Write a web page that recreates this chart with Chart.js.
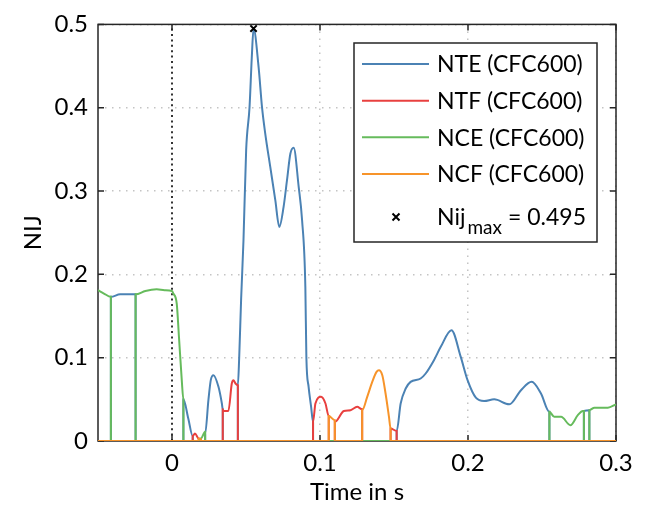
<!DOCTYPE html>
<html>
<head>
<meta charset="utf-8">
<script src="https://cdn.jsdelivr.net/npm/chart.js@4.4.1/dist/chart.umd.min.js"></script>
<style>
    html, body { margin: 0; padding: 0; background: #fff; }
    #wrap { width: 648px; height: 509px; }
</style>
</head>
<body>
<div id="wrap"><canvas id="nijChart" width="648" height="509"></canvas></div>
<script>
// time in s, Nij value (0 where the load case is not active)
const nteSamples = [
    [-0.05, 0], [-0.0413, 0], [-0.0413, 0.173], [-0.035, 0.176], [-0.0246, 0.176], [-0.0246, 0],
    [0.0077, 0], [0.0077, 0.05], [0.011, 0.027], [0.014, 0.006], [0.014, 0],
    [0.0224, 0], [0.0224, 0.009], [0.0246, 0.049], [0.0262, 0.073], [0.028, 0.079], [0.0314, 0.065],
    [0.0337, 0.045], [0.0343, 0.038], [0.0343, 0],
    [0.0445, 0], [0.0445, 0.067], [0.0454, 0.1], [0.0467, 0.17], [0.0483, 0.241], [0.0501, 0.349],
    [0.0524, 0.401], [0.0539, 0.46], [0.0551, 0.495], [0.0585, 0.449], [0.0608, 0.401], [0.063, 0.369],
    [0.0664, 0.329], [0.0698, 0.289], [0.0725, 0.257], [0.0754, 0.281], [0.0777, 0.313], [0.08, 0.345],
    [0.0822, 0.352], [0.0856, 0.305], [0.0879, 0.265], [0.0901, 0.185], [0.0908, 0.1], [0.0923, 0.065],
    [0.094, 0.041], [0.0953, 0.023], [0.0953, 0],
    [0.1518, 0], [0.1518, 0.012], [0.1545, 0.045], [0.1579, 0.063], [0.1612, 0.071], [0.168, 0.075],
    [0.1714, 0.081], [0.177, 0.097], [0.1816, 0.113], [0.1888, 0.133], [0.1951, 0.101], [0.1997, 0.073],
    [0.2053, 0.052], [0.2109, 0.048], [0.2177, 0.05], [0.2279, 0.044], [0.2358, 0.061], [0.243, 0.071],
    [0.2493, 0.057], [0.255, 0.035], [0.255, 0],
    [0.2783, 0], [0.2783, 0.036], [0.282, 0.037], [0.282, 0], [0.3, 0]
];
const ntfSamples = [
    [-0.05, 0], [0.014, 0], [0.014, 0.006], [0.0155, 0.009], [0.018, 0.003], [0.018, 0],
    [0.0343, 0], [0.0343, 0.038], [0.0348, 0.036], [0.0381, 0.036], [0.0404, 0.069], [0.0415, 0.073],
    [0.0429, 0.069], [0.0445, 0.067], [0.0445, 0],
    [0.0953, 0], [0.0953, 0.023], [0.0969, 0.045], [0.1007, 0.053], [0.1037, 0.045], [0.1059, 0.03], [0.1059, 0],
    [0.11, 0], [0.11, 0.023], [0.1161, 0.036], [0.1206, 0.037], [0.1251, 0.041], [0.1285, 0.038], [0.1285, 0],
    [0.1477, 0], [0.1477, 0.015], [0.1518, 0.012], [0.1518, 0], [0.3, 0]
];
const nceSamples = [
    [-0.05, 0.181], [-0.046, 0.177], [-0.0413, 0.173], [-0.0413, 0],
    [-0.0246, 0], [-0.0246, 0.176], [-0.018, 0.18], [-0.0104, 0.182], [-0.005, 0.181], [0, 0.18],
    [0.0009, 0.177], [0.0032, 0.165], [0.0047, 0.125], [0.0066, 0.073], [0.0077, 0.05], [0.0077, 0],
    [0.0195, 0], [0.0195, 0.003], [0.0224, 0.011], [0.0224, 0],
    [0.255, 0], [0.255, 0.035], [0.2583, 0.029], [0.2629, 0.029], [0.2692, 0.019], [0.2742, 0.031],
    [0.2776, 0.036], [0.2783, 0.036], [0.2783, 0],
    [0.282, 0], [0.282, 0.037], [0.2854, 0.04], [0.2945, 0.04], [0.3, 0.044]
];
const ncfSamples = [
    [-0.05, 0], [0.018, 0], [0.018, 0.003], [0.0195, 0.002], [0.0195, 0],
    [0.1059, 0], [0.1059, 0.03], [0.11, 0.025], [0.11, 0],
    [0.1285, 0], [0.1285, 0.037], [0.1319, 0.053], [0.1353, 0.071], [0.1382, 0.083], [0.1398, 0.085],
    [0.1421, 0.079], [0.1443, 0.057], [0.1466, 0.029], [0.1477, 0.015], [0.1477, 0], [0.3, 0]
];
const nijMaxTime = 0.0551;
const nijMax = 0.495;

const xTicks = [0, 0.1, 0.2, 0.3];
const yTicks = [0, 0.1, 0.2, 0.3, 0.4, 0.5];
const seriesLabels = ['NTE (CFC600)', 'NTF (CFC600)', 'NCE (CFC600)', 'NCF (CFC600)'];
const seriesColors = ['#4b82b4', '#e8403f', '#66bb5c', '#f7942a'];

const axisColor = '#262626';
const fontName = 'Lato';

function toPoints(samples) {
    return samples.map(s => ({ x: s[0], y: s[1] }));
}

function lineSet(i, samples) {
    return {
        label: seriesLabels[i],
        data: toPoints(samples),
        borderColor: seriesColors[i],
        borderWidth: 2,
        pointRadius: 0,
        fill: false,
        cubicInterpolationMode: 'monotone',
        order: 4 - i
    };
}

const framePlugin = {
    id: 'frame',
    beforeDatasetsDraw(chart) {
        const { ctx, chartArea: a, scales } = chart;
        ctx.save();
        // dotted line at t = 0
        const x0 = scales.x.getPixelForValue(0);
        ctx.strokeStyle = '#000';
        ctx.lineWidth = 1.6;
        ctx.setLineDash([2, 3.4]);
        ctx.beginPath();
        ctx.moveTo(x0, a.bottom);
        ctx.lineTo(x0, a.top);
        ctx.stroke();
        ctx.setLineDash([]);

        // box and inner ticks
        ctx.strokeStyle = axisColor;
        ctx.lineWidth = 1.5;
        ctx.strokeRect(a.left, a.top, a.right - a.left, a.bottom - a.top);
        ctx.beginPath();
        xTicks.forEach(v => {
            const px = scales.x.getPixelForValue(v);
            ctx.moveTo(px, a.bottom); ctx.lineTo(px, a.bottom - 6);
            ctx.moveTo(px, a.top); ctx.lineTo(px, a.top + 6);
        });
        yTicks.forEach(v => {
            const py = scales.y.getPixelForValue(v);
            ctx.moveTo(a.left, py); ctx.lineTo(a.left + 6, py);
            ctx.moveTo(a.right, py); ctx.lineTo(a.right - 6, py);
        });
        ctx.stroke();
        ctx.restore();
    },
    afterDraw(chart) {
        const { ctx } = chart;
        ctx.save();
        const bx = 354, by = 43, bw = 243, bh = 199;
        ctx.fillStyle = '#fff';
        ctx.fillRect(bx, by, bw, bh);
        ctx.strokeStyle = axisColor;
        ctx.lineWidth = 1.5;
        ctx.strokeRect(bx, by, bw, bh);

        const rows = [64, 100.7, 137.3, 174];
        ctx.font = '23px ' + fontName;
        ctx.textBaseline = 'middle';
        ctx.textAlign = 'left';
        rows.forEach((ry, i) => {
            ctx.strokeStyle = seriesColors[i];
            ctx.lineWidth = 2;
            ctx.beginPath();
            ctx.moveTo(362, ry);
            ctx.lineTo(429, ry);
            ctx.stroke();
            ctx.fillStyle = '#000';
            ctx.fillText(seriesLabels[i], 437, ry + 1);
        });

        // marker row
        const my = 217;
        ctx.strokeStyle = '#000';
        ctx.lineWidth = 2;
        ctx.beginPath();
        ctx.moveTo(392.5, my - 3.5); ctx.lineTo(399.5, my + 3.5);
        ctx.moveTo(399.5, my - 3.5); ctx.lineTo(392.5, my + 3.5);
        ctx.stroke();

        ctx.fillStyle = '#000';
        ctx.textBaseline = 'alphabetic';
        ctx.font = '23px ' + fontName;
        const base = 225;
        ctx.fillText('Nij', 437, base);
        let tx = 437 + ctx.measureText('Nij').width + 2;
        ctx.font = '19px ' + fontName;
        ctx.fillText('max', tx, base + 9);
        tx += ctx.measureText('max').width + 6;
        ctx.font = '23px ' + fontName;
        ctx.fillText('= ' + nijMax.toFixed(3), tx, base);
        ctx.restore();
    }
};

const gridColor = ctx => (ctx.tick && ctx.tick.value === 0) ? 'rgba(0,0,0,0)' : '#c4c4c4';

new Chart(document.getElementById('nijChart'), {
    type: 'line',
    data: {
        datasets: [
            lineSet(0, nteSamples),
            lineSet(1, ntfSamples),
            lineSet(2, nceSamples),
            lineSet(3, ncfSamples),
            {
                label: 'Nij max',
                data: [{ x: nijMaxTime, y: nijMax }],
                showLine: false,
                pointStyle: 'crossRot',
                pointRadius: 4.5,
                pointBorderWidth: 2,
                borderColor: '#000',
                backgroundColor: '#000',
                order: 0
            }
        ]
    },
    options: {
        responsive: false,
        animation: false,
        devicePixelRatio: 1,
        layout: { padding: { top: 24, right: 32, left: 0, bottom: 0 } },
        plugins: {
            legend: { display: false },
            tooltip: { enabled: false }
        },
        scales: {
            x: {
                type: 'linear',
                min: -0.05,
                max: 0.3,
                afterBuildTicks: scale => { scale.ticks = xTicks.map(v => ({ value: v })); },
                afterFit: scale => { scale.height = 68; },
                ticks: {
                    color: '#000',
                    padding: 8,
                    font: { family: fontName, size: 24 },
                    callback: v => v === 0 ? '0' : v.toFixed(1)
                },
                grid: { drawTicks: false, color: gridColor, lineWidth: 1.5 },
                border: { display: false, dash: [1.5, 5.5] },
                title: {
                    display: true,
                    text: 'Time in s',
                    color: '#000',
                    font: { family: fontName, size: 24 },
                    padding: { top: 0, bottom: 2 }
                }
            },
            y: {
                min: 0,
                max: 0.5,
                afterBuildTicks: scale => { scale.ticks = yTicks.map(v => ({ value: v })); },
                afterFit: scale => { scale.width = 98; },
                ticks: {
                    color: '#000',
                    padding: 10,
                    font: { family: fontName, size: 24 },
                    callback: v => v === 0 ? '0' : v.toFixed(1)
                },
                grid: { drawTicks: false, color: gridColor, lineWidth: 1.5 },
                border: { display: false, dash: [1.5, 5.5] },
                title: {
                    display: true,
                    text: 'NIJ',
                    color: '#000',
                    font: { family: fontName, size: 24 },
                    padding: { top: 19, bottom: 0 }
                }
            }
        }
    },
    plugins: [framePlugin]
});
</script>
</body>
</html>
